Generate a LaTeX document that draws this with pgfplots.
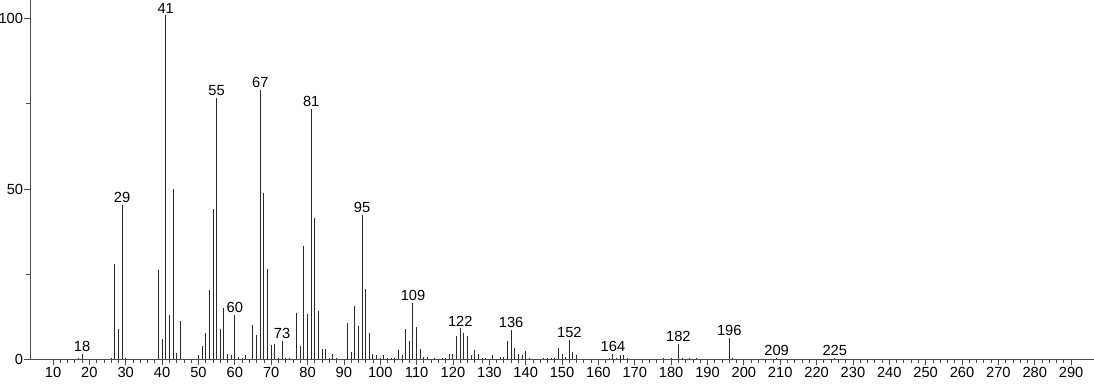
\documentclass[border=0pt]{standalone}
\usepackage{pgfplots}
\pgfplotsset{compat=1.18}
\usepackage{fontspec}
\setmainfont{Liberation Sans}
\definecolor{axisgray}{HTML}{4A4A4A}
\definecolor{bargray}{HTML}{2A2A2A}
\begin{document}
\begin{tikzpicture}
\begin{axis}[
  scale only axis, width=798pt, height=269.5pt,
  xmin=3.67, xmax=296.3, ymin=0, ymax=105.5,
  axis x line=bottom, axis y line=left,
  axis line style={-, color=axisgray, line width=0.7pt},
  xtick={10,20,...,290}, minor xtick={12,14,...,288},
  ytick={0,50,100}, minor ytick={25,75},
  tick align=outside,
  major tick length=4.5pt, minor tick length=3pt,
  every tick/.style={color=axisgray, line width=0.6pt},
  ticklabel style={font=\fontsize{11}{13}\selectfont},
  /pgf/number format/assume math mode=true,
  xticklabel style={inner sep=1pt},
  yticklabel style={inner sep=0.5pt},
  clip=false,
]
\addplot[ycomb, color=bargray, line width=0.75pt, mark=none] table {
m I
17 0.4
18 1.7
26 0.5
27 28.0
28 8.9
29 45.3
30 0.3
39 26.2
40 5.9
41 101
42 13.0
43 50.0
44 1.8
45 11.2
50 1.3
51 4.0
52 7.8
53 20.5
54 44.1
55 76.8
56 8.9
57 15.0
58 1.6
59 1.3
60 13.0
61 0.6
62 0.3
63 1.2
65 10.1
66 7.1
67 79.1
68 48.9
69 26.4
70 4.2
71 4.5
72 0.3
73 5.5
74 0.3
75 0.5
77 13.5
78 3.9
79 33.3
80 13.3
81 73.4
82 41.4
83 14.3
84 2.9
85 2.9
86 0.5
87 1.5
88 0.3
91 10.7
92 2.2
93 15.8
94 9.9
95 42.3
96 20.7
97 7.6
98 1.5
99 1.2
100 0.4
101 1.2
102 0.3
103 0.5
104 0.5
105 2.7
106 1.2
107 8.9
108 5.3
109 16.6
110 9.6
111 2.9
112 0.7
113 0.7
115 0.5
117 0.5
118 0.3
119 1.6
120 1.6
121 6.8
122 9.1
123 7.8
124 6.8
125 1.2
126 2.7
127 1.6
128 0.5
129 0.3
131 1.4
133 0.7
134 0.8
135 5.3
136 8.6
137 3.2
138 1.6
139 1.2
140 2.4
141 0.5
145 0.5
146 0.5
147 0.5
148 0.5
149 3.3
150 1.5
151 0.7
152 5.7
153 2.1
154 1.2
163 0.4
164 1.5
165 0.3
166 1.3
167 1.4
168 0.5
178 0.5
180 0.3
182 4.4
183 0.3
185 0.3
187 0.3
196 6.2
197 0.5
209 0.3
225 0.3
};
\addplot[draw=none, mark=none, point meta=x,
  nodes near coords={\pgfmathprintnumber[fixed,precision=0]{\pgfplotspointmeta}},
  every node near coord/.style={anchor=south, inner sep=0.5pt, yshift=1pt,
    font=\fontsize{11}{13}\selectfont, /pgf/number format/assume math mode=true}]
 table {
m I
18 1.7
29 45.3
41 101
55 76.8
60 13.0
67 79.1
73 5.5
81 73.4
95 42.3
109 16.6
122 9.1
136 8.6
152 5.7
164 1.5
182 4.4
196 6.2
209 0.3
225 0.3
};
\end{axis}
\pgfresetboundingbox
\path ([xshift=-22.5pt, yshift=-18.5pt]current axis.south west) rectangle (current axis.north east);
\end{tikzpicture}
\end{document}
